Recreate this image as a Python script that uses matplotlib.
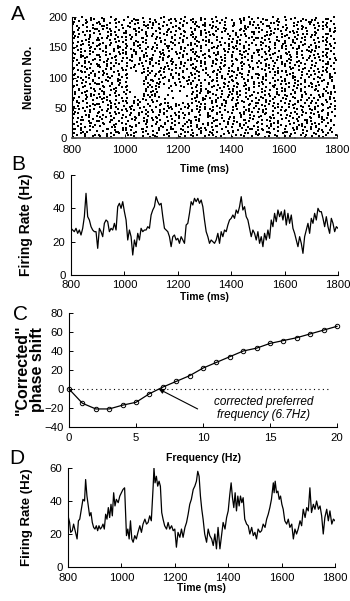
import numpy as np
import matplotlib
matplotlib.use("Agg")
import matplotlib.pyplot as plt

plt.rcParams['font.family'] = ['Liberation Sans', 'DejaVu Sans']

# ---------------- data ----------------
# Panel A: spike raster transcribed on a grid.
# Each row covers 5 neurons (top row = neurons 195-200); each character is 5 ms (from 800 ms).
# '.' = no spike, digit d = spike at neuron offset d (1..5) below the row's top.
raster_rows = [
    "..3....1..5...2.4... ..2.4....1...3.....5 ..1...3.5....2....4. ..5....2.1....3..4.. ..4..1...5.3.....2.. 4....3..1....5..2... 5.....4..2...1.3.... 2...3.5....1...4.... 1....4..2.....3.5... .5..2......4.3...1..",
    ".4...2.....3..1...5. 3...2...5...1..4.... ...5.2...1....4...3. .5.3.....4...1....2. .5..2......4.3...1.. 5.....4..2...1.3.... ..5....2.1....3..4.. ..3....1..5...2.4... .1.....5..3.2.....4. 4..1.....3..5..2....",
    "2..5....4.1....3.... .2..5.3......1...4.. ..5....2.1....3..4.. .4...2.....3..1...5. ...4..1.....2.5...3. 2...3.5....1...4.... ..3....1..5...2.4... 3...2...5...1..4.... .4.....1.3...5.....2 ..4..1...5.3.....2..",
    "...1.3.....2...4..5. ..1...3.5....2....4. ...2...5..3....1.4.. 4....3..1....5..2... 4..1.....3..5..2.... 1....4..2.....3.5... .1.....5..3.2.....4. .4.....1.3...5.....2 ..3....1..5...2.4... ...4..1.....2.5...3.",
    ".5..2......4.3...1.. 4..1.....3..5..2.... 3.....1.4...2..5.... ...4..1.....2.5...3. .1..4.....5.2....3.. 2..5....4.1....3.... .3....2..4.1.....5.. ...2...5..3....1.4.. .2..5.3......1...4.. ...5.2...1....4...3.",
    "4....3..1....5..2... .4.....1.3...5.....2 2..5....4.1....3.... .3....2..4.1.....5.. ..4..1...5.3.....2.. .2..5.3......1...4.. ...2...5..3....1.4.. .1.....5..3.2.....4. ..5....2.1....3..4.. .5..2......4.3...1..",
    "..2.4....1...3.....5 ..5....2.1....3..4.. 4....3..1....5..2... 2...3.5....1...4.... .5..2......4.3...1.. .4.....1.3...5.....2 ...1.3.....2...4..5. ...5.2...1....4...3. 2..5....4.1....3.... 4..1.....3..5..2....",
    ".1.....5..3.2.....4. 3.....1.4...2..5.... 3...2...5...1..4.... ...2...5..3....1.4.. ...4..1.....2.5...3. .5.3.....4...1....2. .2..5.3......1...4.. 1....4..2.....3.5... 5.....4..2...1.3.... ..4..1...5.3.....2..",
    "3...2...5...1..4.... .5.3.....4...1....2. 5.....4..2...1.3.... ..3....1..5...2.4... 4..1.....3..5..2.... ...1.3.....2...4..5. 2...3.5....1...4.... ..2.4....1...3.....5 3.....1.4...2..5.... ...4..1.....2.5...3.",
    "...4..1.....2.5...3. 1....4..2.....3.5... .3....2..4.1.....5.. .5..2......4.3...1.. ..5....2.1....3..4.. .1.....5..3.2.....4. .5.3.....4...1....2. ..1...3.5....2....4. .4...2.....3..1...5. 2...3.5....1...4....",
    ".2..5.3......1...4.. .4...2.....3..1...5. 2...3.5....1...4.... 3...2...5...1..4.... ..4..1...5.3.....2.. ...5.2...1....4...3. ..2.4....1...3.....5 .5.3.....4...1....2. .3....2..4.1.....5.. .5..2......4.3...1..",
    "5.....4..2...1.3.... ...1.3.....2...4..5. 3.....1.4...2..5.... ..1...3.5....2....4. .5..2......4.3...1.. ...2...5..3....1.4.. .3....2..4.1.....5.. 4....3..1....5..2... .5.3.....4...1....2. 4..1.....3..5..2....",
    "..1...3.5....2....4. 4....3..1....5..2... 1....4..2.....3.5... .4.....1.3...5.....2 ...4..1.....2.5...3. 2..5....4.1....3.... 3.....1.4...2..5.... .3....2..4.1.....5.. ..2.4....1...3.....5 ..4..1...5.3.....2..",
    ".3....2..4.1.....5.. .1.....5..3.2.....4. .4...2.....3..1...5. 3.....1.4...2..5.... 4..1.....3..5..2.... 3...2...5...1..4.... 2..5....4.1....3.... ...2...5..3....1.4.. ...5.2...1....4...3. ...4..1.....2.5...3.",
    "4..1.....3..5..2.... .2..5.3......1...4.. ...1.3.....2...4..5. 1....4..2.....3.5... ..5....2.1....3..4.. 5.....4..2...1.3.... 3...2...5...1..4.... .4...2.....3..1...5. ..4..1...5.3.....2.. .4.....1.3...5.....2",
    "...5.2...1....4...3. 5.....4..2...1.3.... .1.....5..3.2.....4. ...1.3.....2...4..5. ..4..1...5.3.....2.. 3.....1.4...2..5.... .4.....1.3...5.....2 ..1...3.5....2....4. 3...2...5...1..4.... .5..2......4.3...1..",
    ".4.....1.3...5.....2 .3....2..4.1.....5.. .2..5.3......1...4.. .1.....5..3.2.....4. .5..2......4.3...1.. .4...2.....3..1...5. 1....4..2.....3.5... 3.....1.4...2..5.... 2...3.5....1...4.... 4..1.....3..5..2....",
    "2...3.5....1...4.... ...5.2...1....4...3. 3.......4.....2..4.. 5.....4..2...1.3.... ...4..1.....2.5...3. .1.....5..3.2.....4. 4....3..1....5..2... ...1.3.....2...4..5. .4...2.....3..1...5. ..4..1...5.3.....2..",
    "..5....2.1....3..4.. 2...3.5....1...4.... .5..........3.1...3. ...5.2...1....4...3. 4..1.....3..5..2.... .3....2..4.1.....5.. ..1...3.5....2....4. 5.....4..2...1.3.... .2..5.3......1...4.. ...4..1.....2.5...3.",
    ".1..4.....5.2....3.. ...2...5..3....1.4.. 2..............5.2.. ..3....1..5...2.4... 2..5....4.1....3.... ..2.4....1...3.....5 3...2...5...1..4.... .2..5.3......1...4.. ..1...3.5....2....4. 1....4..2.....3.5...",
    "3.....1.4...2..5.... 1....4..2.....3.5... .1.............3...4 4....3..1....5..2... 3...2...5...1..4.... 5.....4..2...1.3.... 4..1.....3..5..2.... 2...3.5....1...4.... 3.....1.4...2..5.... ..3....1..5...2.4...",
    "...2...5..3....1.4.. ..3....1..5...2.4... 3.............2..4.. .2..5.3......1...4.. .3....2..4.1.....5.. ...5.2...1....4...3. .1..4.....5.2....3.. .5.3.....4...1....2. 2..5....4.1....3.... 4....3..1....5..2...",
    ".5.3.....4...1....2. 2..5....4.1....3.... .5............1...3. ...5.2...1....4...3. ..5....2.1....3..4.. ...2...5..3....1.4.. ..4..1...5.3.....2.. .5..2......4.3...1.. .1.....5..3.2.....4. .2..5.3......1...4..",
    "1....4..2.....3.5... .5..2......4.3...1.. 2..............5.2.. 2..4.1.......3...... ....2.....3..1...4.. .4...2.....3..1...5. .5..2......4.3...1.. ...4..1.....2.5...3. 4..1.....3..5..2.... .1..4.....5.2....3..",
    "..4..1...5.3.....2.. ..2.4....1...3.....5 .1.4...........3...4 .3..5..........2.... .3.........5..2..3.. ..2.4....1...3.....5 .2..5.3......1...4.. ...5.2...1....4...3. 3.....1.4...2..5.... ...1.3.....2...4..5.",
    "..3....1..5...2.4... 3...2...5...1..4.... 3.............2..4.. 4.2.........5....... ..........2...4.1... ..1...3.5....2....4. 2...3.5....1...4.... 1....4..2.....3.5... 4....3..1....5..2... 5.....4..2...1.3....",
    ".4...2.....3..1...5. .2..5.3......1...4.. .5.....2......1...3. ..1..3..........4... ......1.....4.3...5. .1..4.....5.2....3.. .4...2.....3..1...5. ..2.4....1...3.....5 ..1...3.5....2....4. ..5....2.1....3..4..",
    "2..5....4.1....3.... ..1...3.5....2....4. 5.....4..2...1.3.... 3...5.....1......... ..........1..5....2. 1....4..2.....3.5... 3...2...5...1..4.... .3....2..4.1.....5.. .1..4.....5.2....3.. .4...2.....3..1...5.",
    "...1.3.....2...4..5. 4..1.....3..5..2.... .3....2..4.1.....5.. .1.....5..3.2.....4. ...2...5..3....1.4.. 4....3..1....5..2... ...5.2...1....4...3. 3.....1.4...2..5.... 2..5....4.1....3.... 3...2...5...1..4....",
    ".5..2......4.3...1.. .4.....1.3...5.....2 ...5.2...1....4...3. ...4..1.....2.5...3. 1....4..2.....3.5... 5.....4..2...1.3.... .5.3.....4...1....2. ...1.3.....2...4..5. ...4..1.....2.5...3. ...5.2...1....4...3.",
    "4....3..1....5..2... ..5....2.1....3..4.. 2...3.5....1...4.... 5.....4..2...1.3.... ..3....1..5...2.4... 2...3.5....1...4.... .5..2......4.3...1.. .2..5.3......1...4.. .4.....1.3...5.....2 .5.3.....4...1....2.",
    "..2.4....1...3.....5 3.....1.4...2..5.... .1..4.....5.2....3.. .3....2..4.1.....5.. 2..5....4.1....3.... ..4..1...5.3.....2.. 5.....4..2...1.3.... 2...3.5....1...4.... 1....4..2.....3.5... 4....3..1....5..2...",
    ".1.....5..3.2.....4. .5.3.....4...1....2. ...2...5..3....1.4.. ...5.2...1....4...3. 4....3..1....5..2... ..2.4....1...3.....5 ..5....2.1....3..4.. ..4..1...5.3.....2.. ..2.4....1...3.....5 ..1...3.5....2....4.",
    "3...2...5...1..4.... ..4..1...5.3.....2.. 1....4..2.....3.5... 2...3.5....1...4.... 3...2...5...1..4.... ..1...3.5....2....4. ..3....1..5...2.4... .1.....5..3.2.....4. .3....2..4.1.....5.. 3.....1.4...2..5....",
    "...4..1.....2.5...3. 2..5....4.1....3.... ..3....1..5...2.4... .1..4.....5.2....3.. 5.....4..2...1.3.... ..5....2.1....3..4.. ..2.4....1...3.....5 4..1.....3..5..2.... ...2...5..3....1.4.. 2..5....4.1....3....",
    ".2..5.3......1...4.. .5..2......4.3...1.. 2..5....4.1....3.... ...2...5..3....1.4.. ...5.2...1....4...3. ..4..1...5.3.....2.. .3....2..4.1.....5.. ...2...5..3....1.4.. .5..2......4.3...1.. .2..5.3......1...4..",
    "5.....4..2...1.3.... .1.....5..3.2.....4. 4....3..1....5..2... 1....4..2.....3.5... ..5....2.1....3..4.. 4....3..1....5..2... 3.....1.4...2..5.... 2..5....4.1....3.... 5.....4..2...1.3.... 2...3.5....1...4....",
    "..1...3.5....2....4. ...4..1.....2.5...3. 3...2...5...1..4.... .4...2.....3..1...5. ...2...5..3....1.4.. .2..5.3......1...4.. .4...2.....3..1...5. 3...2...5...1..4.... ..5....2.1....3..4.. 1....4..2.....3.5...",
    ".3....2..4.1.....5.. 5.....4..2...1.3.... .2..5.3......1...4.. .5..2......4.3...1.. ..4..1...5.3.....2.. ...5.2...1....4...3. .1.....5..3.2.....4. .4.....1.3...5.....2 1....4..2.....3.5... ..2.4....1...3.....5",
    "4..1.....3..5..2.... .3....2..4.1.....5.. ..1...3.5....2....4. ..2.4....1...3.....5 .4...2.....3..1...5. 3.....1.4...2..5.... 4..1.....3..5..2.... 1....4..2.....3.5... 3...2...5...1..4.... .3....2..4.1.....5..",
]
raster_t0 = 800        # ms, left edge of first character
raster_dt = 5          # ms per character
raster_dn = 5          # neurons per row
raster_top = 200       # neuron index at top of first row

# Panel B: population firing rate (Hz), sampled evenly from 800 to 1800 ms
rate_b = [28, 27, 26, 28, 25, 27, 24, 28,
          35, 49, 35, 33, 29, 27, 26, 26, 16, 28,
          26, 23, 31, 33, 32, 26, 28, 27, 31, 27,
          41, 43, 40, 44, 38, 33, 21, 27, 23, 12,
          21, 17, 25, 21, 28, 26, 27, 27, 29, 28,
          36, 39, 41, 47, 44, 42, 43, 35, 28, 27,
          26, 23, 17, 23, 24, 21, 22, 19, 23, 21,
          19, 30, 31, 37, 44, 42, 46, 44, 46, 43,
          45, 41, 33, 26, 23, 19, 21, 20, 19, 21,
          25, 19, 26, 23, 27, 26, 30, 33, 34, 36,
          34, 39, 37, 41, 47, 39, 41, 35, 33, 28,
          23, 27, 25, 21, 26, 19, 23, 17, 25, 21,
          27, 22, 33, 29, 37, 32, 39, 35, 38, 33,
          39, 30, 37, 31, 36, 28, 25, 21, 17, 23,
          19, 13, 23, 27, 31, 25, 34, 31, 37, 33,
          40, 38, 38, 34, 29, 35, 29, 25, 34, 31,
          26, 29, 28]

# Panel C: corrected phase shift vs frequency
freq_c = list(range(0, 21))
shift_c = [0, -15, -21, -21, -17, -14, -5, 2, 8, 14, 22, 28, 34, 40, 43, 48, 51, 54, 58, 62, 66]
pref_freq = 6.7
annot_text = "corrected preferred\nfrequency (6.7Hz)"

# Panel D: firing rate (Hz)
time_d = [800, 806, 810, 816, 821, 828, 834, 839, 844, 850,
          856, 862, 866, 871, 876, 881, 886, 891, 896, 901,
          906, 911, 916, 921, 926, 931, 936, 941, 946, 951,
          956, 961, 966, 971, 976, 981, 988, 994, 1000, 1006,
          1012, 1019, 1024, 1029, 1034, 1039, 1044, 1050, 1056, 1062,
          1069, 1075, 1081, 1088, 1094, 1100, 1106, 1112, 1119, 1122,
          1126, 1131, 1136, 1141, 1146, 1151, 1156, 1162, 1169, 1175,
          1181, 1188, 1194, 1200, 1206, 1212, 1219, 1225, 1231, 1238,
          1244, 1250, 1256, 1262, 1269, 1275, 1281, 1286, 1291, 1296,
          1301, 1306, 1312, 1319, 1325, 1331, 1338, 1344, 1350, 1356,
          1362, 1369, 1375, 1381, 1388, 1394, 1400, 1406, 1411, 1416,
          1421, 1426, 1431, 1436, 1441, 1446, 1451, 1456, 1462, 1469,
          1475, 1481, 1488, 1494, 1500, 1506, 1512, 1519, 1525, 1531,
          1538, 1544, 1550, 1556, 1562, 1569, 1572, 1576, 1581, 1586,
          1591, 1596, 1601, 1606, 1612, 1619, 1625, 1631, 1638, 1644,
          1650, 1656, 1662, 1669, 1675, 1681, 1688, 1694, 1700, 1706,
          1712, 1719, 1725, 1731, 1738, 1744, 1750, 1756, 1762, 1769,
          1775, 1781, 1788, 1794, 1800]
rate_d = [31, 27, 21, 22, 26, 21, 17, 28, 29, 35,
          41, 40, 53, 43, 37, 31, 33, 27, 24, 23,
          25, 22, 25, 23, 24, 26, 23, 32, 29, 36,
          30, 38, 31, 45, 37, 41, 39, 43, 45, 47,
          48, 19, 23, 17, 28, 17, 15, 19, 17, 21,
          25, 21, 26, 29, 26, 27, 31, 28, 49, 60,
          51, 55, 49, 52, 49, 33, 29, 25, 23, 27,
          23, 25, 22, 23, 12, 21, 18, 23, 18, 24,
          27, 32, 38, 41, 47, 49, 52, 58, 55, 43,
          35, 29, 20, 15, 23, 19, 17, 13, 20, 11,
          24, 11, 19, 27, 23, 30, 34, 44, 51, 42,
          36, 45, 34, 43, 37, 43, 39, 42, 29, 26,
          25, 20, 24, 19, 21, 17, 23, 21, 22, 26,
          24, 29, 32, 36, 41, 51, 45, 52, 45, 46,
          41, 43, 38, 35, 28, 26, 29, 24, 26, 17,
          23, 20, 23, 28, 25, 35, 30, 36, 34, 48,
          33, 38, 35, 40, 35, 37, 31, 20, 30, 35,
          28, 34, 26, 29, 28]

time_ticks = [800, 1000, 1200, 1400, 1600, 1800]
neuron_ticks = [0, 50, 100, 150, 200]
rate_ticks = [0, 20, 40, 60]
freq_ticks = [0, 5, 10, 15, 20]
shift_ticks = [-40, -20, 0, 20, 40, 60, 80]

# ---------------- figure ----------------
W, H = 350, 601
fig = plt.figure(figsize=(W / 100, H / 100), dpi=100)


def px_axes(left, top, right, bottom):
    return fig.add_axes([left / W, 1 - bottom / H, (right - left) / W, (bottom - top) / H])


TICK_FS = 8.2
XLAB_FS = 7.5
PANEL_FS = 15


def style(ax, xpad, ypad=3.5):
    for s in ['top', 'right']:
        ax.spines[s].set_visible(False)
    for s in ['left', 'bottom']:
        ax.spines[s].set_linewidth(0.8)
    ax.tick_params(direction='in', length=3, width=0.7, labelsize=TICK_FS)
    ax.tick_params(axis='x', pad=xpad)
    ax.tick_params(axis='y', pad=ypad)


def labels(ax, xlab, ylab, xlab_y, ylab_x, ylab_fs, ylab_ls=1.0):
    ax.set_xlabel(xlab, fontsize=XLAB_FS, fontweight='bold', va='top')
    ax.xaxis.set_label_coords(0.5, xlab_y)
    ax.set_ylabel(ylab, fontsize=ylab_fs, fontweight='bold', linespacing=ylab_ls)
    ax.yaxis.set_label_coords(ylab_x, 0.5)


# Panel A
axA = px_axes(72, 17, 337, 138)
st, sn = [], []
for r, row in enumerate(raster_rows):
    cells = row.replace(" ", "")
    for c, ch in enumerate(cells):
        if ch.isdigit():
            st.append(raster_t0 + raster_dt * (c + 0.5))
            sn.append(raster_top - raster_dn * r - (int(ch) - 0.5))
axA.plot(st, sn, 's', color='k', ms=1.5, mew=0, clip_on=False)
axA.set_xlim(800, 1800)
axA.set_ylim(0, 200)
axA.set_xticks(time_ticks)
axA.set_yticks(neuron_ticks)
style(axA, xpad=5)
axA.spines['bottom'].set_color('#555555')
axA.spines['bottom'].set_linewidth(1.3)
labels(axA, "Time (ms)", "Neuron No.", -0.215, -0.14, 8.5)

# Panel B
axB = px_axes(71, 175, 338, 275)
tb = np.linspace(800, 1800, len(rate_b))
axB.plot(tb, rate_b, color='k', lw=0.9)
axB.set_xlim(800, 1800)
axB.set_ylim(0, 60)
axB.set_xticks(time_ticks)
axB.set_yticks(rate_ticks)
style(axB, xpad=3.6, ypad=4)
labels(axB, "Time (ms)", "Firing Rate (Hz)", -0.165, -0.142, 10)

# Panel C
axC = px_axes(69, 313, 337, 427)
axC.axhline(0, color='k', lw=0.8, ls=(0, (1, 3)), xmax=0.97)
axC.plot(freq_c, shift_c, '-o', color='k', lw=0.9, ms=3.2, mfc='none', mew=0.7, clip_on=False)
axC.set_xlim(0, 20)
axC.set_ylim(-40, 80)
axC.set_xticks(freq_ticks)
axC.set_yticks(shift_ticks)
style(axC, xpad=4.3, ypad=4)
labels(axC, "Frequency (Hz)", "\"Corrected\"\nphase shift", -0.228, -0.09, 11.5, 1.0)
axC.annotate("", xy=(pref_freq, 0), xytext=(9.6, -21),
             arrowprops=dict(arrowstyle='-|>', color='k', lw=0.8, mutation_scale=7,
                             shrinkA=0, shrinkB=0))
axC.text(14.5, -20.5, annot_text, fontsize=8.5, style='italic', ha='center', va='center',
         linespacing=1.2)

# Panel D
axD = px_axes(68, 468, 335, 567)
axD.plot(time_d, rate_d, color='k', lw=0.9)
axD.set_xlim(800, 1800)
axD.set_ylim(0, 60)
axD.set_xticks(time_ticks)
axD.set_yticks(rate_ticks)
style(axD, xpad=4.2, ypad=4)
labels(axD, "Time (ms)", "Firing Rate (Hz)", -0.16, -0.131, 9.5)

# Panel letters
for letter, (x, y) in zip("ABCD", [(11, 15), (11, 164), (13, 314), (9, 459)]):
    fig.text(x / W, 1 - y / H, letter, fontsize=PANEL_FS, ha='left', va='center')

fig.savefig("out.png", dpi=100)
